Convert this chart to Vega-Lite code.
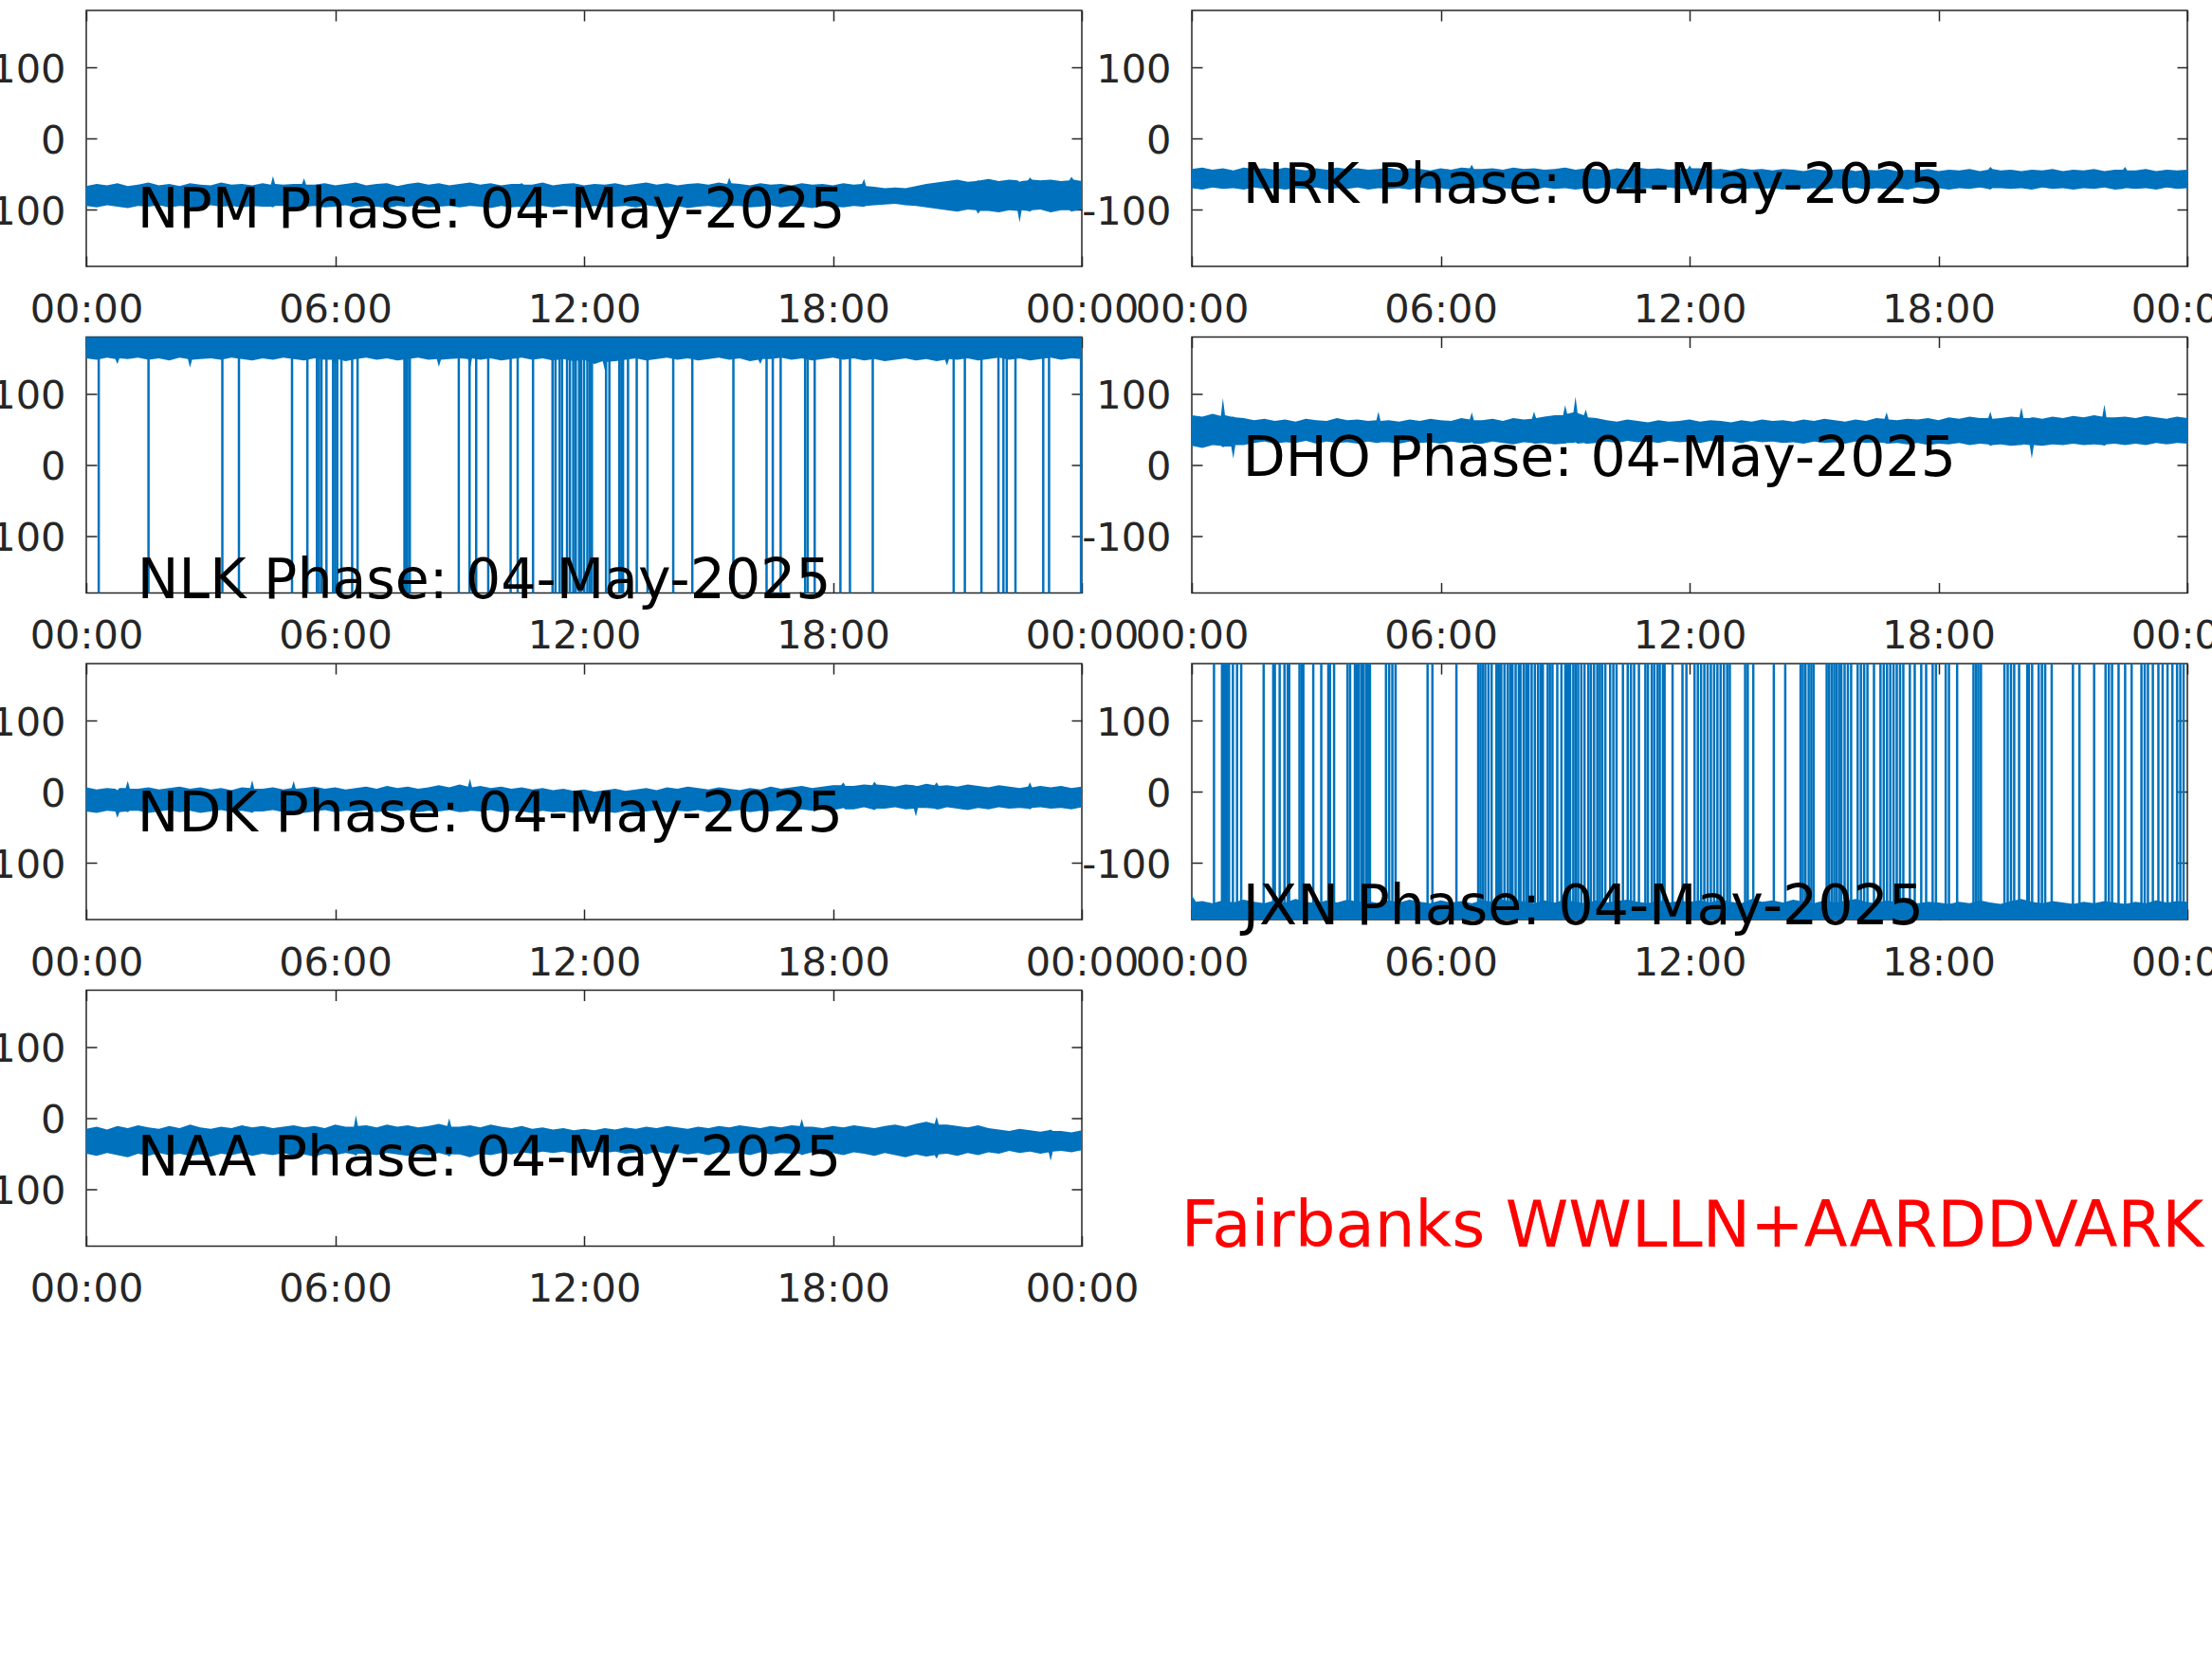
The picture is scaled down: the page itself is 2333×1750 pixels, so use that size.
{
"$schema": "https://vega.github.io/schema/vega-lite/v6.json",
"background": "white",
"padding": {"left": -26, "top": 9, "right": 0, "bottom": 0},
"autosize": {"type": "pad"},
"datasets": {
"labels": [
{"station":"NPM","h":1.23,"y":-125,"label":"NPM Phase: 04-May-2025"},
{"station":"NRK","h":1.23,"y":-91,"label":"NRK Phase: 04-May-2025"},
{"station":"NLK","h":1.23,"y":-187,"label":"NLK Phase: 04-May-2025"},
{"station":"DHO","h":1.23,"y":-15,"label":"DHO Phase: 04-May-2025"},
{"station":"NDK","h":1.23,"y":-56,"label":"NDK Phase: 04-May-2025"},
{"station":"JXN","h":1.23,"y":-187,"label":"JXN Phase: 04-May-2025"},
{"station":"NAA","h":1.23,"y":-81,"label":"NAA Phase: 04-May-2025"},
{"station":"site","h":-0.26,"y":-180,"label":"Fairbanks WWLLN+AARDDVARK"}
],
"NPM": [
{"h":0,"hi":-67,"lo":-95},{"h":0.25,"hi":-64,"lo":-97},{"h":0.5,"hi":-66,"lo":-94},{"h":0.75,"hi":-63,"lo":-96},{"h":1,"hi":-67,"lo":-98},{"h":1.25,"hi":-65,"lo":-95},{"h":1.5,"hi":-62,"lo":-96},{"h":1.75,"hi":-66,"lo":-94},{"h":2,"hi":-64,"lo":-97},{"h":2.25,"hi":-67,"lo":-95},{"h":2.5,"hi":-63,"lo":-96},{"h":2.75,"hi":-65,"lo":-98},{"h":3,"hi":-66,"lo":-94},{"h":3.25,"hi":-62,"lo":-96},{"h":3.5,"hi":-65,"lo":-95},{"h":3.75,"hi":-64,"lo":-97},{"h":4,"hi":-66,"lo":-95},{"h":4.25,"hi":-63,"lo":-96},{"h":4.45,"hi":-65,"lo":-96},{"h":4.5,"hi":-53,"lo":-97},{"h":4.55,"hi":-64,"lo":-95},{"h":4.75,"hi":-65,"lo":-95},{"h":5,"hi":-64,"lo":-98},{"h":5.2,"hi":-64,"lo":-97},{"h":5.25,"hi":-56,"lo":-96},{"h":5.3,"hi":-65,"lo":-96},{"h":5.5,"hi":-65,"lo":-95},{"h":5.75,"hi":-63,"lo":-97},{"h":6,"hi":-66,"lo":-96},{"h":6.25,"hi":-64,"lo":-94},{"h":6.5,"hi":-62,"lo":-97},{"h":6.75,"hi":-66,"lo":-95},{"h":7,"hi":-64,"lo":-96},{"h":7.25,"hi":-63,"lo":-98},{"h":7.5,"hi":-67,"lo":-95},{"h":7.75,"hi":-64,"lo":-96},{"h":8,"hi":-62,"lo":-94},{"h":8.25,"hi":-65,"lo":-97},{"h":8.5,"hi":-63,"lo":-96},{"h":8.75,"hi":-66,"lo":-95},{"h":9,"hi":-64,"lo":-97},{"h":9.25,"hi":-62,"lo":-95},{"h":9.5,"hi":-65,"lo":-96},{"h":9.75,"hi":-63,"lo":-98},{"h":10,"hi":-66,"lo":-95},{"h":10.25,"hi":-64,"lo":-97},{"h":10.45,"hi":-64,"lo":-96},{"h":10.5,"hi":-63,"lo":-103},{"h":10.55,"hi":-65,"lo":-97},{"h":10.75,"hi":-65,"lo":-96},{"h":11,"hi":-62,"lo":-95},{"h":11.25,"hi":-66,"lo":-97},{"h":11.5,"hi":-64,"lo":-95},{"h":11.75,"hi":-63,"lo":-96},{"h":12,"hi":-66,"lo":-98},{"h":12.25,"hi":-64,"lo":-95},{"h":12.5,"hi":-65,"lo":-97},{"h":12.75,"hi":-63,"lo":-96},{"h":13,"hi":-66,"lo":-95},{"h":13.25,"hi":-64,"lo":-97},{"h":13.5,"hi":-62,"lo":-94},{"h":13.75,"hi":-65,"lo":-96},{"h":14,"hi":-63,"lo":-97},{"h":14.25,"hi":-66,"lo":-95},{"h":14.5,"hi":-64,"lo":-98},{"h":14.75,"hi":-63,"lo":-96},{"h":15,"hi":-65,"lo":-95},{"h":15.25,"hi":-62,"lo":-97},{"h":15.45,"hi":-64,"lo":-96},{"h":15.5,"hi":-55,"lo":-96},{"h":15.55,"hi":-63,"lo":-95},{"h":15.75,"hi":-64,"lo":-95},{"h":16,"hi":-66,"lo":-97},{"h":16.25,"hi":-63,"lo":-96},{"h":16.5,"hi":-65,"lo":-94},{"h":16.75,"hi":-64,"lo":-97},{"h":17,"hi":-66,"lo":-95},{"h":17.25,"hi":-63,"lo":-96},{"h":17.5,"hi":-65,"lo":-98},{"h":17.75,"hi":-64,"lo":-95},{"h":18,"hi":-66,"lo":-96},{"h":18.25,"hi":-63,"lo":-97},{"h":18.5,"hi":-65,"lo":-95},{"h":18.7,"hi":-64,"lo":-96},{"h":18.75,"hi":-57,"lo":-96},{"h":18.8,"hi":-67,"lo":-95},{"h":19,"hi":-68,"lo":-94},{"h":19.25,"hi":-70,"lo":-93},{"h":19.5,"hi":-69,"lo":-92},{"h":19.75,"hi":-70,"lo":-94},{"h":20,"hi":-67,"lo":-95},{"h":20.25,"hi":-64,"lo":-97},{"h":20.5,"hi":-62,"lo":-99},{"h":20.75,"hi":-60,"lo":-101},{"h":21,"hi":-58,"lo":-103},{"h":21.25,"hi":-61,"lo":-100},{"h":21.45,"hi":-60,"lo":-101},{"h":21.5,"hi":-59,"lo":-106},{"h":21.55,"hi":-59,"lo":-102},{"h":21.75,"hi":-57,"lo":-102},{"h":22,"hi":-60,"lo":-104},{"h":22.25,"hi":-58,"lo":-101},{"h":22.45,"hi":-59,"lo":-102},{"h":22.5,"hi":-61,"lo":-118},{"h":22.55,"hi":-60,"lo":-101},{"h":22.7,"hi":-59,"lo":-102},{"h":22.75,"hi":-55,"lo":-103},{"h":22.8,"hi":-58,"lo":-101},{"h":23,"hi":-59,"lo":-100},{"h":23.25,"hi":-58,"lo":-104},{"h":23.5,"hi":-60,"lo":-101},{"h":23.7,"hi":-59,"lo":-101},{"h":23.75,"hi":-54,"lo":-103},{"h":23.8,"hi":-58,"lo":-102},{"h":24,"hi":-60,"lo":-100}
],
"NRK": [
{"h":0,"hi":-43,"lo":-70},{"h":0.25,"hi":-41,"lo":-72},{"h":0.5,"hi":-44,"lo":-69},{"h":0.75,"hi":-42,"lo":-71},{"h":1,"hi":-45,"lo":-70},{"h":1.25,"hi":-41,"lo":-72},{"h":1.5,"hi":-43,"lo":-69},{"h":1.75,"hi":-42,"lo":-71},{"h":2,"hi":-44,"lo":-70},{"h":2.25,"hi":-41,"lo":-72},{"h":2.5,"hi":-43,"lo":-70},{"h":2.75,"hi":-45,"lo":-71},{"h":3,"hi":-42,"lo":-69},{"h":3.25,"hi":-44,"lo":-72},{"h":3.5,"hi":-41,"lo":-70},{"h":3.75,"hi":-43,"lo":-71},{"h":4,"hi":-42,"lo":-69},{"h":4.25,"hi":-44,"lo":-72},{"h":4.5,"hi":-43,"lo":-70},{"h":4.75,"hi":-41,"lo":-71},{"h":5,"hi":-44,"lo":-70},{"h":5.25,"hi":-42,"lo":-72},{"h":5.5,"hi":-43,"lo":-69},{"h":5.75,"hi":-45,"lo":-71},{"h":6,"hi":-42,"lo":-70},{"h":6.25,"hi":-44,"lo":-72},{"h":6.5,"hi":-41,"lo":-70},{"h":6.7,"hi":-42,"lo":-70},{"h":6.75,"hi":-37,"lo":-71},{"h":6.8,"hi":-43,"lo":-71},{"h":7,"hi":-43,"lo":-69},{"h":7.25,"hi":-42,"lo":-72},{"h":7.5,"hi":-44,"lo":-70},{"h":7.75,"hi":-41,"lo":-71},{"h":8,"hi":-43,"lo":-70},{"h":8.25,"hi":-42,"lo":-73},{"h":8.5,"hi":-44,"lo":-69},{"h":8.75,"hi":-43,"lo":-71},{"h":9,"hi":-41,"lo":-70},{"h":9.25,"hi":-44,"lo":-72},{"h":9.5,"hi":-42,"lo":-70},{"h":9.75,"hi":-43,"lo":-71},{"h":10,"hi":-45,"lo":-69},{"h":10.25,"hi":-42,"lo":-72},{"h":10.5,"hi":-44,"lo":-70},{"h":10.75,"hi":-41,"lo":-71},{"h":11,"hi":-43,"lo":-70},{"h":11.25,"hi":-42,"lo":-72},{"h":11.5,"hi":-44,"lo":-69},{"h":11.75,"hi":-43,"lo":-71},{"h":11.95,"hi":-43,"lo":-71},{"h":12,"hi":-38,"lo":-70},{"h":12.05,"hi":-42,"lo":-70},{"h":12.25,"hi":-42,"lo":-72},{"h":12.5,"hi":-44,"lo":-70},{"h":12.75,"hi":-43,"lo":-71},{"h":13,"hi":-45,"lo":-69},{"h":13.25,"hi":-42,"lo":-72},{"h":13.5,"hi":-44,"lo":-70},{"h":13.75,"hi":-43,"lo":-71},{"h":14,"hi":-45,"lo":-70},{"h":14.25,"hi":-43,"lo":-72},{"h":14.5,"hi":-44,"lo":-69},{"h":14.75,"hi":-46,"lo":-71},{"h":15,"hi":-43,"lo":-70},{"h":15.25,"hi":-45,"lo":-72},{"h":15.5,"hi":-44,"lo":-70},{"h":15.75,"hi":-43,"lo":-71},{"h":16,"hi":-46,"lo":-69},{"h":16.25,"hi":-44,"lo":-72},{"h":16.5,"hi":-45,"lo":-70},{"h":16.75,"hi":-43,"lo":-71},{"h":17,"hi":-46,"lo":-70},{"h":17.25,"hi":-44,"lo":-72},{"h":17.5,"hi":-45,"lo":-69},{"h":17.75,"hi":-43,"lo":-71},{"h":18,"hi":-46,"lo":-70},{"h":18.25,"hi":-44,"lo":-72},{"h":18.5,"hi":-45,"lo":-70},{"h":18.75,"hi":-43,"lo":-71},{"h":19,"hi":-46,"lo":-69},{"h":19.2,"hi":-44,"lo":-71},{"h":19.25,"hi":-40,"lo":-72},{"h":19.3,"hi":-43,"lo":-70},{"h":19.5,"hi":-45,"lo":-70},{"h":19.75,"hi":-44,"lo":-71},{"h":20,"hi":-46,"lo":-70},{"h":20.25,"hi":-44,"lo":-72},{"h":20.5,"hi":-45,"lo":-69},{"h":20.75,"hi":-43,"lo":-71},{"h":21,"hi":-46,"lo":-70},{"h":21.25,"hi":-44,"lo":-72},{"h":21.5,"hi":-45,"lo":-70},{"h":21.75,"hi":-43,"lo":-71},{"h":22,"hi":-46,"lo":-69},{"h":22.25,"hi":-44,"lo":-72},{"h":22.45,"hi":-44,"lo":-71},{"h":22.5,"hi":-40,"lo":-70},{"h":22.55,"hi":-45,"lo":-70},{"h":22.75,"hi":-45,"lo":-71},{"h":23,"hi":-43,"lo":-70},{"h":23.25,"hi":-46,"lo":-72},{"h":23.5,"hi":-44,"lo":-69},{"h":23.75,"hi":-45,"lo":-71},{"h":24,"hi":-44,"lo":-70}
],
"NLK": [
{"h":0,"lo":150},{"h":0.25,"lo":148},{"h":0.5,"lo":151},{"h":0.7,"lo":149},{"h":0.75,"lo":142},{"h":0.8,"lo":150},{"h":1,"lo":149},{"h":1.25,"lo":151},{"h":1.5,"lo":148},{"h":1.75,"lo":150},{"h":2,"lo":147},{"h":2.25,"lo":151},{"h":2.45,"lo":149},{"h":2.5,"lo":137},{"h":2.55,"lo":148},{"h":2.75,"lo":149},{"h":3,"lo":150},{"h":3.25,"lo":148},{"h":3.5,"lo":151},{"h":3.75,"lo":149},{"h":4,"lo":147},{"h":4.25,"lo":150},{"h":4.5,"lo":148},{"h":4.75,"lo":151},{"h":5,"lo":149},{"h":5.25,"lo":147},{"h":5.5,"lo":150},{"h":5.75,"lo":148},{"h":5.95,"lo":148},{"h":6,"lo":140},{"h":6.05,"lo":149},{"h":6.25,"lo":146},{"h":6.5,"lo":149},{"h":6.75,"lo":151},{"h":7,"lo":148},{"h":7.25,"lo":150},{"h":7.5,"lo":147},{"h":7.75,"lo":149},{"h":8,"lo":151},{"h":8.25,"lo":148},{"h":8.45,"lo":149},{"h":8.5,"lo":138},{"h":8.55,"lo":148},{"h":8.75,"lo":149},{"h":9,"lo":150},{"h":9.2,"lo":149},{"h":9.25,"lo":135},{"h":9.3,"lo":150},{"h":9.5,"lo":148},{"h":9.75,"lo":150},{"h":10,"lo":147},{"h":10.25,"lo":149},{"h":10.5,"lo":151},{"h":10.75,"lo":148},{"h":11,"lo":150},{"h":11.25,"lo":147},{"h":11.5,"lo":149},{"h":11.75,"lo":146},{"h":12,"lo":148},{"h":12.25,"lo":142},{"h":12.45,"lo":146},{"h":12.5,"lo":134},{"h":12.55,"lo":145},{"h":12.75,"lo":146},{"h":13,"lo":148},{"h":13.25,"lo":150},{"h":13.5,"lo":147},{"h":13.75,"lo":149},{"h":14,"lo":151},{"h":14.25,"lo":148},{"h":14.5,"lo":150},{"h":14.75,"lo":147},{"h":15,"lo":149},{"h":15.25,"lo":151},{"h":15.5,"lo":148},{"h":15.75,"lo":150},{"h":16,"lo":146},{"h":16.2,"lo":148},{"h":16.25,"lo":142},{"h":16.3,"lo":149},{"h":16.5,"lo":149},{"h":16.75,"lo":151},{"h":17,"lo":148},{"h":17.25,"lo":150},{"h":17.5,"lo":147},{"h":17.75,"lo":149},{"h":18,"lo":151},{"h":18.25,"lo":148},{"h":18.5,"lo":150},{"h":18.75,"lo":147},{"h":19,"lo":149},{"h":19.25,"lo":146},{"h":19.5,"lo":148},{"h":19.75,"lo":150},{"h":20,"lo":147},{"h":20.25,"lo":149},{"h":20.5,"lo":146},{"h":20.7,"lo":148},{"h":20.75,"lo":140},{"h":20.8,"lo":149},{"h":21,"lo":148},{"h":21.25,"lo":150},{"h":21.5,"lo":147},{"h":21.75,"lo":149},{"h":22,"lo":151},{"h":22.25,"lo":148},{"h":22.5,"lo":150},{"h":22.75,"lo":147},{"h":23,"lo":149},{"h":23.25,"lo":151},{"h":23.5,"lo":148},{"h":23.75,"lo":150},{"h":24,"lo":149}
],
"NLKwraps": [
{"h":0.30},{"h":1.50},{"h":3.28},{"h":3.68},{"h":4.96},{"h":5.33},{"h":5.56},{"h":5.61},{"h":5.67},{"h":5.79},{"h":5.95},{"h":6.00},{"h":6.05},{"h":6.15},{"h":6.41},{"h":6.54},{"h":7.67},{"h":7.70},{"h":7.74},{"h":7.80},{"h":8.98},{"h":9.24},{"h":9.40},{"h":9.69},{"h":10.23},{"h":10.40},{"h":10.77},{"h":11.24},{"h":11.31},{"h":11.41},{"h":11.47},{"h":11.59},{"h":11.66},{"h":11.74},{"h":11.80},{"h":11.88},{"h":11.93},{"h":12.00},{"h":12.08},{"h":12.14},{"h":12.19},{"h":12.53},{"h":12.61},{"h":12.85},{"h":12.90},{"h":12.94},{"h":13.06},{"h":13.27},{"h":13.53},{"h":14.15},{"h":14.61},{"h":15.60},{"h":16.40},{"h":16.55},{"h":16.74},{"h":17.33},{"h":17.39},{"h":17.56},{"h":18.18},{"h":18.41},{"h":18.96},{"h":20.91},{"h":21.18},{"h":21.58},{"h":21.99},{"h":22.11},{"h":22.19},{"h":22.40},{"h":23.07},{"h":23.21},{"h":23.98}
],
"DHO": [
{"h":0,"hi":70,"lo":27},{"h":0.25,"hi":68,"lo":24},{"h":0.5,"hi":72,"lo":28},{"h":0.7,"hi":69,"lo":27},{"h":0.75,"hi":94,"lo":25},{"h":0.8,"hi":70,"lo":26},{"h":0.95,"hi":68,"lo":26},{"h":1,"hi":68,"lo":9},{"h":1.05,"hi":67,"lo":28},{"h":1.25,"hi":66,"lo":28},{"h":1.5,"hi":63,"lo":31},{"h":1.75,"hi":65,"lo":33},{"h":2,"hi":62,"lo":30},{"h":2.25,"hi":64,"lo":32},{"h":2.5,"hi":61,"lo":31},{"h":2.75,"hi":65,"lo":34},{"h":3,"hi":63,"lo":30},{"h":3.25,"hi":62,"lo":33},{"h":3.5,"hi":66,"lo":31},{"h":3.75,"hi":63,"lo":32},{"h":4,"hi":64,"lo":30},{"h":4.25,"hi":62,"lo":33},{"h":4.45,"hi":63,"lo":31},{"h":4.5,"hi":75,"lo":31},{"h":4.55,"hi":62,"lo":32},{"h":4.75,"hi":63,"lo":32},{"h":5,"hi":61,"lo":30},{"h":5.25,"hi":64,"lo":33},{"h":5.5,"hi":62,"lo":31},{"h":5.75,"hi":65,"lo":32},{"h":6,"hi":63,"lo":30},{"h":6.25,"hi":62,"lo":33},{"h":6.5,"hi":66,"lo":31},{"h":6.7,"hi":64,"lo":31},{"h":6.75,"hi":74,"lo":32},{"h":6.8,"hi":63,"lo":30},{"h":7,"hi":63,"lo":30},{"h":7.25,"hi":65,"lo":33},{"h":7.5,"hi":62,"lo":31},{"h":7.75,"hi":66,"lo":29},{"h":8,"hi":64,"lo":32},{"h":8.2,"hi":65,"lo":31},{"h":8.25,"hi":75,"lo":30},{"h":8.3,"hi":66,"lo":30},{"h":8.5,"hi":68,"lo":31},{"h":8.75,"hi":70,"lo":29},{"h":8.95,"hi":70,"lo":30},{"h":9,"hi":84,"lo":30},{"h":9.05,"hi":72,"lo":31},{"h":9.2,"hi":74,"lo":31},{"h":9.25,"hi":96,"lo":32},{"h":9.3,"hi":73,"lo":30},{"h":9.45,"hi":70,"lo":31},{"h":9.5,"hi":78,"lo":30},{"h":9.55,"hi":67,"lo":30},{"h":9.75,"hi":66,"lo":31},{"h":10,"hi":63,"lo":33},{"h":10.25,"hi":61,"lo":31},{"h":10.5,"hi":64,"lo":34},{"h":10.75,"hi":62,"lo":32},{"h":11,"hi":60,"lo":33},{"h":11.25,"hi":63,"lo":31},{"h":11.5,"hi":61,"lo":34},{"h":11.75,"hi":62,"lo":32},{"h":12,"hi":64,"lo":33},{"h":12.25,"hi":61,"lo":31},{"h":12.5,"hi":63,"lo":34},{"h":12.75,"hi":62,"lo":32},{"h":13,"hi":60,"lo":33},{"h":13.25,"hi":63,"lo":31},{"h":13.5,"hi":61,"lo":34},{"h":13.75,"hi":64,"lo":32},{"h":14,"hi":62,"lo":33},{"h":14.25,"hi":63,"lo":31},{"h":14.5,"hi":61,"lo":32},{"h":14.75,"hi":64,"lo":30},{"h":15,"hi":62,"lo":33},{"h":15.25,"hi":65,"lo":31},{"h":15.5,"hi":63,"lo":32},{"h":15.75,"hi":61,"lo":30},{"h":16,"hi":64,"lo":33},{"h":16.25,"hi":62,"lo":31},{"h":16.5,"hi":66,"lo":32},{"h":16.7,"hi":65,"lo":31},{"h":16.75,"hi":74,"lo":30},{"h":16.8,"hi":64,"lo":30},{"h":17,"hi":63,"lo":31},{"h":17.25,"hi":65,"lo":29},{"h":17.5,"hi":64,"lo":31},{"h":17.75,"hi":66,"lo":28},{"h":18,"hi":63,"lo":30},{"h":18.25,"hi":67,"lo":29},{"h":18.5,"hi":65,"lo":31},{"h":18.75,"hi":68,"lo":28},{"h":19,"hi":66,"lo":30},{"h":19.2,"hi":66,"lo":29},{"h":19.25,"hi":75,"lo":27},{"h":19.3,"hi":65,"lo":28},{"h":19.5,"hi":66,"lo":29},{"h":19.75,"hi":68,"lo":27},{"h":19.95,"hi":67,"lo":28},{"h":20,"hi":81,"lo":28},{"h":20.05,"hi":66,"lo":29},{"h":20.2,"hi":66,"lo":28},{"h":20.25,"hi":67,"lo":9},{"h":20.3,"hi":67,"lo":28},{"h":20.5,"hi":65,"lo":27},{"h":20.75,"hi":68,"lo":29},{"h":21,"hi":66,"lo":28},{"h":21.25,"hi":69,"lo":30},{"h":21.5,"hi":67,"lo":28},{"h":21.75,"hi":70,"lo":29},{"h":21.95,"hi":68,"lo":28},{"h":22,"hi":85,"lo":27},{"h":22.05,"hi":67,"lo":29},{"h":22.25,"hi":67,"lo":30},{"h":22.5,"hi":68,"lo":28},{"h":22.75,"hi":66,"lo":30},{"h":23,"hi":69,"lo":28},{"h":23.25,"hi":67,"lo":31},{"h":23.5,"hi":65,"lo":29},{"h":23.75,"hi":68,"lo":31},{"h":24,"hi":66,"lo":30}
],
"NDK": [
{"h":0,"hi":6,"lo":-28},{"h":0.25,"hi":3,"lo":-30},{"h":0.5,"hi":5,"lo":-27},{"h":0.7,"hi":4,"lo":-28},{"h":0.75,"hi":2,"lo":-37},{"h":0.8,"hi":5,"lo":-29},{"h":0.95,"hi":5,"lo":-28},{"h":1,"hi":15,"lo":-29},{"h":1.05,"hi":4,"lo":-27},{"h":1.25,"hi":4,"lo":-27},{"h":1.5,"hi":6,"lo":-30},{"h":1.75,"hi":3,"lo":-28},{"h":2,"hi":5,"lo":-26},{"h":2.25,"hi":7,"lo":-29},{"h":2.5,"hi":4,"lo":-27},{"h":2.75,"hi":6,"lo":-30},{"h":3,"hi":3,"lo":-28},{"h":3.25,"hi":5,"lo":-26},{"h":3.5,"hi":2,"lo":-29},{"h":3.75,"hi":6,"lo":-27},{"h":3.95,"hi":5,"lo":-29},{"h":4,"hi":16,"lo":-30},{"h":4.05,"hi":4,"lo":-28},{"h":4.25,"hi":4,"lo":-28},{"h":4.5,"hi":6,"lo":-26},{"h":4.75,"hi":3,"lo":-29},{"h":4.95,"hi":5,"lo":-28},{"h":5,"hi":15,"lo":-27},{"h":5.05,"hi":4,"lo":-29},{"h":5.25,"hi":5,"lo":-30},{"h":5.5,"hi":7,"lo":-28},{"h":5.75,"hi":4,"lo":-26},{"h":6,"hi":6,"lo":-29},{"h":6.25,"hi":3,"lo":-27},{"h":6.5,"hi":5,"lo":-28},{"h":6.75,"hi":7,"lo":-26},{"h":7,"hi":4,"lo":-29},{"h":7.25,"hi":8,"lo":-27},{"h":7.5,"hi":5,"lo":-28},{"h":7.75,"hi":7,"lo":-26},{"h":8,"hi":4,"lo":-29},{"h":8.25,"hi":6,"lo":-27},{"h":8.5,"hi":9,"lo":-28},{"h":8.75,"hi":6,"lo":-26},{"h":9,"hi":10,"lo":-29},{"h":9.2,"hi":7,"lo":-28},{"h":9.25,"hi":18,"lo":-27},{"h":9.3,"hi":6,"lo":-27},{"h":9.5,"hi":8,"lo":-28},{"h":9.75,"hi":5,"lo":-26},{"h":10,"hi":7,"lo":-29},{"h":10.25,"hi":4,"lo":-27},{"h":10.5,"hi":6,"lo":-28},{"h":10.75,"hi":3,"lo":-30},{"h":11,"hi":5,"lo":-27},{"h":11.25,"hi":2,"lo":-29},{"h":11.5,"hi":4,"lo":-28},{"h":11.75,"hi":1,"lo":-30},{"h":12,"hi":3,"lo":-27},{"h":12.25,"hi":0,"lo":-29},{"h":12.5,"hi":2,"lo":-28},{"h":12.75,"hi":4,"lo":-30},{"h":13,"hi":1,"lo":-27},{"h":13.25,"hi":3,"lo":-29},{"h":13.5,"hi":5,"lo":-28},{"h":13.75,"hi":2,"lo":-26},{"h":14,"hi":6,"lo":-29},{"h":14.25,"hi":4,"lo":-27},{"h":14.5,"hi":7,"lo":-28},{"h":14.75,"hi":5,"lo":-26},{"h":15,"hi":3,"lo":-29},{"h":15.25,"hi":6,"lo":-27},{"h":15.5,"hi":4,"lo":-28},{"h":15.75,"hi":2,"lo":-26},{"h":16,"hi":5,"lo":-29},{"h":16.25,"hi":3,"lo":-27},{"h":16.5,"hi":7,"lo":-28},{"h":16.75,"hi":4,"lo":-26},{"h":17,"hi":6,"lo":-28},{"h":17.25,"hi":8,"lo":-25},{"h":17.5,"hi":5,"lo":-27},{"h":17.75,"hi":7,"lo":-24},{"h":18,"hi":9,"lo":-26},{"h":18.2,"hi":9,"lo":-24},{"h":18.25,"hi":13,"lo":-23},{"h":18.3,"hi":8,"lo":-25},{"h":18.5,"hi":8,"lo":-25},{"h":18.75,"hi":10,"lo":-22},{"h":18.95,"hi":9,"lo":-25},{"h":19,"hi":14,"lo":-26},{"h":19.05,"hi":10,"lo":-24},{"h":19.25,"hi":9,"lo":-24},{"h":19.5,"hi":7,"lo":-22},{"h":19.75,"hi":10,"lo":-25},{"h":19.95,"hi":9,"lo":-24},{"h":20,"hi":8,"lo":-35},{"h":20.05,"hi":8,"lo":-23},{"h":20.25,"hi":11,"lo":-23},{"h":20.45,"hi":9,"lo":-24},{"h":20.5,"hi":13,"lo":-25},{"h":20.55,"hi":8,"lo":-25},{"h":20.75,"hi":9,"lo":-22},{"h":21,"hi":7,"lo":-24},{"h":21.25,"hi":10,"lo":-26},{"h":21.5,"hi":8,"lo":-23},{"h":21.75,"hi":6,"lo":-25},{"h":22,"hi":9,"lo":-22},{"h":22.25,"hi":7,"lo":-24},{"h":22.5,"hi":5,"lo":-23},{"h":22.7,"hi":7,"lo":-24},{"h":22.75,"hi":13,"lo":-25},{"h":22.8,"hi":6,"lo":-23},{"h":23,"hi":8,"lo":-22},{"h":23.25,"hi":6,"lo":-24},{"h":23.5,"hi":8,"lo":-23},{"h":23.75,"hi":5,"lo":-25},{"h":24,"hi":7,"lo":-22}
],
"JXN": [
{"h":0,"hi":-146},{"h":0.1,"hi":-155},{"h":0.25,"hi":-154},{"h":0.5,"hi":-157},{"h":0.75,"hi":-153},{"h":1,"hi":-156},{"h":1.25,"hi":-152},{"h":1.5,"hi":-155},{"h":1.75,"hi":-157},{"h":2,"hi":-153},{"h":2.25,"hi":-156},{"h":2.5,"hi":-151},{"h":2.75,"hi":-155},{"h":3,"hi":-157},{"h":3.25,"hi":-153},{"h":3.5,"hi":-156},{"h":3.75,"hi":-152},{"h":4,"hi":-155},{"h":4.25,"hi":-154},{"h":4.5,"hi":-157},{"h":4.75,"hi":-153},{"h":5,"hi":-156},{"h":5.25,"hi":-152},{"h":5.5,"hi":-155},{"h":5.75,"hi":-157},{"h":6,"hi":-153},{"h":6.25,"hi":-156},{"h":6.5,"hi":-154},{"h":6.75,"hi":-157},{"h":7,"hi":-153},{"h":7.25,"hi":-155},{"h":7.5,"hi":-152},{"h":7.75,"hi":-156},{"h":8,"hi":-154},{"h":8.25,"hi":-157},{"h":8.5,"hi":-153},{"h":8.75,"hi":-156},{"h":9,"hi":-152},{"h":9.25,"hi":-155},{"h":9.5,"hi":-157},{"h":9.75,"hi":-153},{"h":10,"hi":-156},{"h":10.25,"hi":-154},{"h":10.5,"hi":-152},{"h":10.75,"hi":-155},{"h":11,"hi":-157},{"h":11.25,"hi":-153},{"h":11.5,"hi":-156},{"h":11.75,"hi":-154},{"h":12,"hi":-155},{"h":12.25,"hi":-153},{"h":12.5,"hi":-156},{"h":12.75,"hi":-152},{"h":13,"hi":-155},{"h":13.25,"hi":-157},{"h":13.5,"hi":-151},{"h":13.75,"hi":-155},{"h":14,"hi":-153},{"h":14.25,"hi":-156},{"h":14.5,"hi":-152},{"h":14.75,"hi":-155},{"h":15,"hi":-157},{"h":15.25,"hi":-153},{"h":15.5,"hi":-156},{"h":15.75,"hi":-154},{"h":16,"hi":-151},{"h":16.25,"hi":-155},{"h":16.5,"hi":-157},{"h":16.75,"hi":-153},{"h":17,"hi":-156},{"h":17.25,"hi":-154},{"h":17.5,"hi":-157},{"h":17.75,"hi":-155},{"h":18,"hi":-156},{"h":18.25,"hi":-158},{"h":18.5,"hi":-155},{"h":18.75,"hi":-157},{"h":19,"hi":-153},{"h":19.25,"hi":-156},{"h":19.5,"hi":-158},{"h":19.75,"hi":-154},{"h":20,"hi":-151},{"h":20.25,"hi":-155},{"h":20.5,"hi":-157},{"h":20.75,"hi":-154},{"h":21,"hi":-156},{"h":21.25,"hi":-158},{"h":21.5,"hi":-155},{"h":21.75,"hi":-157},{"h":22,"hi":-154},{"h":22.25,"hi":-156},{"h":22.5,"hi":-158},{"h":22.75,"hi":-155},{"h":23,"hi":-157},{"h":23.25,"hi":-153},{"h":23.5,"hi":-156},{"h":23.75,"hi":-154},{"h":24,"hi":-155}
],
"JXNwraps": [
{"h":0.535},{"h":0.728},{"h":0.767},{"h":0.805},{"h":0.844},{"h":0.898},{"h":0.991},{"h":1.091},{"h":1.191},{"h":1.732},{"h":1.963},{"h":2.002},{"h":2.118},{"h":2.234},{"h":2.311},{"h":2.349},{"h":2.596},{"h":2.650},{"h":2.689},{"h":2.928},{"h":3.121},{"h":3.291},{"h":3.330},{"h":3.430},{"h":3.754},{"h":3.816},{"h":3.932},{"h":3.971},{"h":4.025},{"h":4.086},{"h":4.140},{"h":4.202},{"h":4.256},{"h":4.295},{"h":4.681},{"h":4.758},{"h":4.835},{"h":4.912},{"h":5.684},{"h":5.800},{"h":6.379},{"h":6.904},{"h":6.958},{"h":7.012},{"h":7.074},{"h":7.151},{"h":7.228},{"h":7.344},{"h":7.383},{"h":7.421},{"h":7.460},{"h":7.537},{"h":7.614},{"h":7.676},{"h":7.730},{"h":7.807},{"h":7.884},{"h":7.923},{"h":8.000},{"h":8.062},{"h":8.116},{"h":8.193},{"h":8.270},{"h":8.347},{"h":8.409},{"h":8.463},{"h":8.579},{"h":8.633},{"h":8.695},{"h":8.811},{"h":8.911},{"h":9.004},{"h":9.043},{"h":9.081},{"h":9.120},{"h":9.197},{"h":9.251},{"h":9.313},{"h":9.390},{"h":9.467},{"h":9.560},{"h":9.621},{"h":9.698},{"h":9.776},{"h":9.837},{"h":9.892},{"h":9.969},{"h":10.085},{"h":10.162},{"h":10.239},{"h":10.393},{"h":10.509},{"h":10.586},{"h":10.664},{"h":10.779},{"h":10.934},{"h":10.996},{"h":11.088},{"h":11.150},{"h":11.227},{"h":11.281},{"h":11.358},{"h":11.397},{"h":11.590},{"h":11.829},{"h":11.924},{"h":12.120},{"h":12.199},{"h":12.277},{"h":12.356},{"h":12.435},{"h":12.513},{"h":12.592},{"h":12.671},{"h":12.749},{"h":12.828},{"h":12.907},{"h":12.970},{"h":13.339},{"h":13.402},{"h":13.536},{"h":14.031},{"h":14.306},{"h":14.676},{"h":14.731},{"h":14.794},{"h":14.872},{"h":14.935},{"h":14.990},{"h":15.305},{"h":15.360},{"h":15.423},{"h":15.486},{"h":15.541},{"h":15.604},{"h":15.659},{"h":15.737},{"h":15.816},{"h":15.895},{"h":16.052},{"h":16.130},{"h":16.209},{"h":16.288},{"h":16.445},{"h":16.602},{"h":16.681},{"h":16.760},{"h":16.838},{"h":16.917},{"h":16.995},{"h":17.074},{"h":17.153},{"h":17.310},{"h":17.428},{"h":17.585},{"h":17.703},{"h":17.860},{"h":17.939},{"h":18.175},{"h":18.253},{"h":18.450},{"h":18.844},{"h":18.906},{"h":18.961},{"h":19.024},{"h":19.590},{"h":19.669},{"h":19.748},{"h":19.826},{"h":19.944},{"h":20.141},{"h":20.180},{"h":20.259},{"h":20.416},{"h":20.495},{"h":20.573},{"h":20.730},{"h":21.242},{"h":21.399},{"h":21.753},{"h":22.028},{"h":22.107},{"h":22.185},{"h":22.342},{"h":22.500},{"h":22.657},{"h":22.893},{"h":22.972},{"h":23.050},{"h":23.168},{"h":23.302},{"h":23.404},{"h":23.522},{"h":23.640},{"h":23.752},{"h":23.830},{"h":23.909}
],
"NAA": [
{"h":0,"hi":-15,"lo":-50},{"h":0.25,"hi":-12,"lo":-53},{"h":0.5,"hi":-16,"lo":-49},{"h":0.75,"hi":-11,"lo":-52},{"h":1,"hi":-14,"lo":-55},{"h":1.25,"hi":-10,"lo":-50},{"h":1.5,"hi":-13,"lo":-53},{"h":1.75,"hi":-15,"lo":-49},{"h":2,"hi":-11,"lo":-52},{"h":2.25,"hi":-14,"lo":-50},{"h":2.5,"hi":-9,"lo":-53},{"h":2.75,"hi":-13,"lo":-51},{"h":3,"hi":-15,"lo":-54},{"h":3.25,"hi":-12,"lo":-50},{"h":3.5,"hi":-14,"lo":-52},{"h":3.75,"hi":-10,"lo":-49},{"h":4,"hi":-13,"lo":-53},{"h":4.25,"hi":-11,"lo":-50},{"h":4.5,"hi":-14,"lo":-52},{"h":4.75,"hi":-12,"lo":-49},{"h":5,"hi":-10,"lo":-53},{"h":5.25,"hi":-13,"lo":-51},{"h":5.5,"hi":-11,"lo":-54},{"h":5.75,"hi":-14,"lo":-50},{"h":6,"hi":-9,"lo":-52},{"h":6.25,"hi":-12,"lo":-49},{"h":6.45,"hi":-12,"lo":-51},{"h":6.5,"hi":4,"lo":-53},{"h":6.55,"hi":-11,"lo":-50},{"h":6.75,"hi":-10,"lo":-50},{"h":7,"hi":-13,"lo":-52},{"h":7.25,"hi":-9,"lo":-49},{"h":7.5,"hi":-12,"lo":-51},{"h":7.75,"hi":-10,"lo":-53},{"h":8,"hi":-13,"lo":-50},{"h":8.25,"hi":-11,"lo":-52},{"h":8.5,"hi":-8,"lo":-49},{"h":8.7,"hi":-11,"lo":-52},{"h":8.75,"hi":0,"lo":-54},{"h":8.8,"hi":-12,"lo":-51},{"h":9,"hi":-12,"lo":-51},{"h":9.25,"hi":-10,"lo":-55},{"h":9.5,"hi":-13,"lo":-50},{"h":9.75,"hi":-9,"lo":-52},{"h":10,"hi":-12,"lo":-49},{"h":10.25,"hi":-14,"lo":-51},{"h":10.5,"hi":-11,"lo":-48},{"h":10.75,"hi":-15,"lo":-50},{"h":11,"hi":-13,"lo":-47},{"h":11.25,"hi":-16,"lo":-49},{"h":11.5,"hi":-14,"lo":-47},{"h":11.75,"hi":-17,"lo":-50},{"h":12,"hi":-15,"lo":-48},{"h":12.25,"hi":-17,"lo":-46},{"h":12.5,"hi":-14,"lo":-49},{"h":12.75,"hi":-16,"lo":-47},{"h":13,"hi":-13,"lo":-50},{"h":13.25,"hi":-15,"lo":-48},{"h":13.5,"hi":-12,"lo":-51},{"h":13.75,"hi":-14,"lo":-47},{"h":14,"hi":-11,"lo":-50},{"h":14.25,"hi":-13,"lo":-48},{"h":14.5,"hi":-15,"lo":-51},{"h":14.75,"hi":-12,"lo":-49},{"h":15,"hi":-14,"lo":-52},{"h":15.25,"hi":-11,"lo":-48},{"h":15.5,"hi":-13,"lo":-50},{"h":15.75,"hi":-10,"lo":-49},{"h":16,"hi":-12,"lo":-52},{"h":16.25,"hi":-14,"lo":-48},{"h":16.5,"hi":-11,"lo":-51},{"h":16.75,"hi":-13,"lo":-49},{"h":17,"hi":-10,"lo":-50},{"h":17.2,"hi":-11,"lo":-50},{"h":17.25,"hi":-1,"lo":-52},{"h":17.3,"hi":-12,"lo":-51},{"h":17.5,"hi":-12,"lo":-48},{"h":17.75,"hi":-14,"lo":-51},{"h":18,"hi":-11,"lo":-49},{"h":18.25,"hi":-13,"lo":-52},{"h":18.5,"hi":-10,"lo":-48},{"h":18.75,"hi":-12,"lo":-50},{"h":19,"hi":-14,"lo":-53},{"h":19.25,"hi":-11,"lo":-49},{"h":19.5,"hi":-9,"lo":-52},{"h":19.75,"hi":-12,"lo":-55},{"h":20,"hi":-8,"lo":-51},{"h":20.25,"hi":-5,"lo":-54},{"h":20.45,"hi":-8,"lo":-52},{"h":20.5,"hi":2,"lo":-57},{"h":20.55,"hi":-9,"lo":-51},{"h":20.75,"hi":-9,"lo":-50},{"h":21,"hi":-11,"lo":-53},{"h":21.25,"hi":-13,"lo":-49},{"h":21.5,"hi":-10,"lo":-52},{"h":21.75,"hi":-14,"lo":-48},{"h":22,"hi":-16,"lo":-50},{"h":22.25,"hi":-18,"lo":-46},{"h":22.5,"hi":-15,"lo":-49},{"h":22.75,"hi":-17,"lo":-47},{"h":23,"hi":-19,"lo":-50},{"h":23.2,"hi":-17,"lo":-48},{"h":23.25,"hi":-16,"lo":-60},{"h":23.3,"hi":-18,"lo":-47},{"h":23.5,"hi":-18,"lo":-46},{"h":23.75,"hi":-20,"lo":-48},{"h":24,"hi":-17,"lo":-45}
]
},
"columns": 2,
"bounds": "flush",
"spacing": {"row": 74.5, "column": 116},
"concat": [
{"width":1050,"height":270,"resolve":{"axis":{"x":"independent","y":"independent"}},"layer":[
 {"data":{"name":"NPM"},"mark":{"type":"area","color":"#0072BD"},"encoding":{
  "x":{"field":"h","type":"quantitative","title":null,"scale":{"domain":[0,24],"nice":false,"zero":false},"axis":{"orient":"bottom","values":[0,6,12,18,24],"labelExpr":"(datum.value % 24 < 10 ? '0' : '') + (datum.value % 24) + ':00'"}},
  "y":{"field":"lo","type":"quantitative","title":null,"scale":{"domain":[-180,180],"nice":false,"zero":false},"axis":{"orient":"left","values":[-100,0,100],"labelExpr":"'' + datum.value"}},
  "y2":{"field":"hi"}}},
 {"data":{"name":"labels"},"transform":[{"filter":"datum.station === 'NPM'"}],"mark":{"type":"text","align":"left","baseline":"alphabetic","fontSize":58.5,"color":"#000000"},"encoding":{
  "x":{"field":"h","type":"quantitative","title":null,"axis":{"orient":"top","values":[0,6,12,18,24],"labels":false}},
  "y":{"field":"y","type":"quantitative","title":null,"axis":{"orient":"right","values":[-100,0,100],"labels":false}},
  "text":{"field":"label"}}}
]},
{"width":1050,"height":270,"resolve":{"axis":{"x":"independent","y":"independent"}},"layer":[
 {"data":{"name":"NRK"},"mark":{"type":"area","color":"#0072BD"},"encoding":{
  "x":{"field":"h","type":"quantitative","title":null,"scale":{"domain":[0,24],"nice":false,"zero":false},"axis":{"orient":"bottom","values":[0,6,12,18,24],"labelExpr":"(datum.value % 24 < 10 ? '0' : '') + (datum.value % 24) + ':00'"}},
  "y":{"field":"lo","type":"quantitative","title":null,"scale":{"domain":[-180,180],"nice":false,"zero":false},"axis":{"orient":"left","values":[-100,0,100],"labelExpr":"'' + datum.value"}},
  "y2":{"field":"hi"}}},
 {"data":{"name":"labels"},"transform":[{"filter":"datum.station === 'NRK'"}],"mark":{"type":"text","align":"left","baseline":"alphabetic","fontSize":58.5,"color":"#000000"},"encoding":{
  "x":{"field":"h","type":"quantitative","title":null,"axis":{"orient":"top","values":[0,6,12,18,24],"labels":false}},
  "y":{"field":"y","type":"quantitative","title":null,"axis":{"orient":"right","values":[-100,0,100],"labels":false}},
  "text":{"field":"label"}}}
]},
{"width":1050,"height":270,"resolve":{"axis":{"x":"independent","y":"independent"}},"layer":[
 {"data":{"name":"NLK"},"mark":{"type":"area","color":"#0072BD"},"encoding":{
  "x":{"field":"h","type":"quantitative","title":null,"scale":{"domain":[0,24],"nice":false,"zero":false},"axis":{"orient":"bottom","values":[0,6,12,18,24],"labelExpr":"(datum.value % 24 < 10 ? '0' : '') + (datum.value % 24) + ':00'"}},
  "y":{"field":"lo","type":"quantitative","title":null,"scale":{"domain":[-180,180],"nice":false,"zero":false},"axis":{"orient":"left","values":[-100,0,100],"labelExpr":"'' + datum.value"}},
  "y2":{"datum":180}}},
 {"data":{"name":"NLKwraps"},"mark":{"type":"rule","color":"#0072BD","strokeWidth":2.5},"encoding":{
  "x":{"field":"h","type":"quantitative","axis":null},
  "y":{"datum":155,"type":"quantitative","axis":null},
  "y2":{"datum":-180}}},
 {"data":{"name":"labels"},"transform":[{"filter":"datum.station === 'NLK'"}],"mark":{"type":"text","align":"left","baseline":"alphabetic","fontSize":58.5,"color":"#000000"},"encoding":{
  "x":{"field":"h","type":"quantitative","title":null,"axis":{"orient":"top","values":[0,6,12,18,24],"labels":false}},
  "y":{"field":"y","type":"quantitative","title":null,"axis":{"orient":"right","values":[-100,0,100],"labels":false}},
  "text":{"field":"label"}}}
]},
{"width":1050,"height":270,"resolve":{"axis":{"x":"independent","y":"independent"}},"layer":[
 {"data":{"name":"DHO"},"mark":{"type":"area","color":"#0072BD"},"encoding":{
  "x":{"field":"h","type":"quantitative","title":null,"scale":{"domain":[0,24],"nice":false,"zero":false},"axis":{"orient":"bottom","values":[0,6,12,18,24],"labelExpr":"(datum.value % 24 < 10 ? '0' : '') + (datum.value % 24) + ':00'"}},
  "y":{"field":"lo","type":"quantitative","title":null,"scale":{"domain":[-180,180],"nice":false,"zero":false},"axis":{"orient":"left","values":[-100,0,100],"labelExpr":"'' + datum.value"}},
  "y2":{"field":"hi"}}},
 {"data":{"name":"labels"},"transform":[{"filter":"datum.station === 'DHO'"}],"mark":{"type":"text","align":"left","baseline":"alphabetic","fontSize":58.5,"color":"#000000"},"encoding":{
  "x":{"field":"h","type":"quantitative","title":null,"axis":{"orient":"top","values":[0,6,12,18,24],"labels":false}},
  "y":{"field":"y","type":"quantitative","title":null,"axis":{"orient":"right","values":[-100,0,100],"labels":false}},
  "text":{"field":"label"}}}
]},
{"width":1050,"height":270,"resolve":{"axis":{"x":"independent","y":"independent"}},"layer":[
 {"data":{"name":"NDK"},"mark":{"type":"area","color":"#0072BD"},"encoding":{
  "x":{"field":"h","type":"quantitative","title":null,"scale":{"domain":[0,24],"nice":false,"zero":false},"axis":{"orient":"bottom","values":[0,6,12,18,24],"labelExpr":"(datum.value % 24 < 10 ? '0' : '') + (datum.value % 24) + ':00'"}},
  "y":{"field":"lo","type":"quantitative","title":null,"scale":{"domain":[-180,180],"nice":false,"zero":false},"axis":{"orient":"left","values":[-100,0,100],"labelExpr":"'' + datum.value"}},
  "y2":{"field":"hi"}}},
 {"data":{"name":"labels"},"transform":[{"filter":"datum.station === 'NDK'"}],"mark":{"type":"text","align":"left","baseline":"alphabetic","fontSize":58.5,"color":"#000000"},"encoding":{
  "x":{"field":"h","type":"quantitative","title":null,"axis":{"orient":"top","values":[0,6,12,18,24],"labels":false}},
  "y":{"field":"y","type":"quantitative","title":null,"axis":{"orient":"right","values":[-100,0,100],"labels":false}},
  "text":{"field":"label"}}}
]},
{"width":1050,"height":270,"resolve":{"axis":{"x":"independent","y":"independent"}},"layer":[
 {"data":{"name":"JXN"},"mark":{"type":"area","color":"#0072BD"},"encoding":{
  "x":{"field":"h","type":"quantitative","title":null,"scale":{"domain":[0,24],"nice":false,"zero":false},"axis":{"orient":"bottom","values":[0,6,12,18,24],"labelExpr":"(datum.value % 24 < 10 ? '0' : '') + (datum.value % 24) + ':00'"}},
  "y":{"field":"hi","type":"quantitative","title":null,"scale":{"domain":[-180,180],"nice":false,"zero":false},"axis":{"orient":"left","values":[-100,0,100],"labelExpr":"'' + datum.value"}},
  "y2":{"datum":-180}}},
 {"data":{"name":"JXNwraps"},"mark":{"type":"rule","color":"#0072BD","strokeWidth":2.5},"encoding":{
  "x":{"field":"h","type":"quantitative","axis":null},
  "y":{"datum":-160,"type":"quantitative","axis":null},
  "y2":{"datum":180}}},
 {"data":{"name":"labels"},"transform":[{"filter":"datum.station === 'JXN'"}],"mark":{"type":"text","align":"left","baseline":"alphabetic","fontSize":58.5,"color":"#000000"},"encoding":{
  "x":{"field":"h","type":"quantitative","title":null,"axis":{"orient":"top","values":[0,6,12,18,24],"labels":false}},
  "y":{"field":"y","type":"quantitative","title":null,"axis":{"orient":"right","values":[-100,0,100],"labels":false}},
  "text":{"field":"label"}}}
]},
{"width":1050,"height":270,"resolve":{"axis":{"x":"independent","y":"independent"}},"layer":[
 {"data":{"name":"NAA"},"mark":{"type":"area","color":"#0072BD"},"encoding":{
  "x":{"field":"h","type":"quantitative","title":null,"scale":{"domain":[0,24],"nice":false,"zero":false},"axis":{"orient":"bottom","values":[0,6,12,18,24],"labelExpr":"(datum.value % 24 < 10 ? '0' : '') + (datum.value % 24) + ':00'"}},
  "y":{"field":"lo","type":"quantitative","title":null,"scale":{"domain":[-180,180],"nice":false,"zero":false},"axis":{"orient":"left","values":[-100,0,100],"labelExpr":"'' + datum.value"}},
  "y2":{"field":"hi"}}},
 {"data":{"name":"labels"},"transform":[{"filter":"datum.station === 'NAA'"}],"mark":{"type":"text","align":"left","baseline":"alphabetic","fontSize":58.5,"color":"#000000"},"encoding":{
  "x":{"field":"h","type":"quantitative","title":null,"axis":{"orient":"top","values":[0,6,12,18,24],"labels":false}},
  "y":{"field":"y","type":"quantitative","title":null,"axis":{"orient":"right","values":[-100,0,100],"labels":false}},
  "text":{"field":"label"}}}
]},
{"width":1050,"height":270,"view":{"stroke":null},
 "data":{"name":"labels"},"transform":[{"filter":"datum.station === 'site'"}],
 "mark":{"type":"text","align":"left","baseline":"alphabetic","fontSize":67.3,"color":"#FF0000"},
 "encoding":{
  "x":{"field":"h","type":"quantitative","scale":{"domain":[0,24],"nice":false,"zero":false},"axis":null},
  "y":{"field":"y","type":"quantitative","scale":{"domain":[-180,180],"nice":false,"zero":false},"axis":null},
  "text":{"field":"label"}}}
],
"config": {
 "view": {"stroke": "#262626", "strokeWidth": 1.5},
 "font": "DejaVu Sans",
 "text": {"font": "DejaVu Sans"},
 "axis": {"domain": false, "grid": false, "tickColor": "#262626", "tickWidth": 1.5, "tickSize": -11, "labelColor": "#262626", "labelFont": "DejaVu Sans", "labelFontSize": 41.5, "labelFlush": false, "labelOverlap": false, "labelBound": false},
 "axisBottom": {"labelPadding": 36},
 "axisLeft": {"labelPadding": 33, "labelOffset": 3}
}
}
